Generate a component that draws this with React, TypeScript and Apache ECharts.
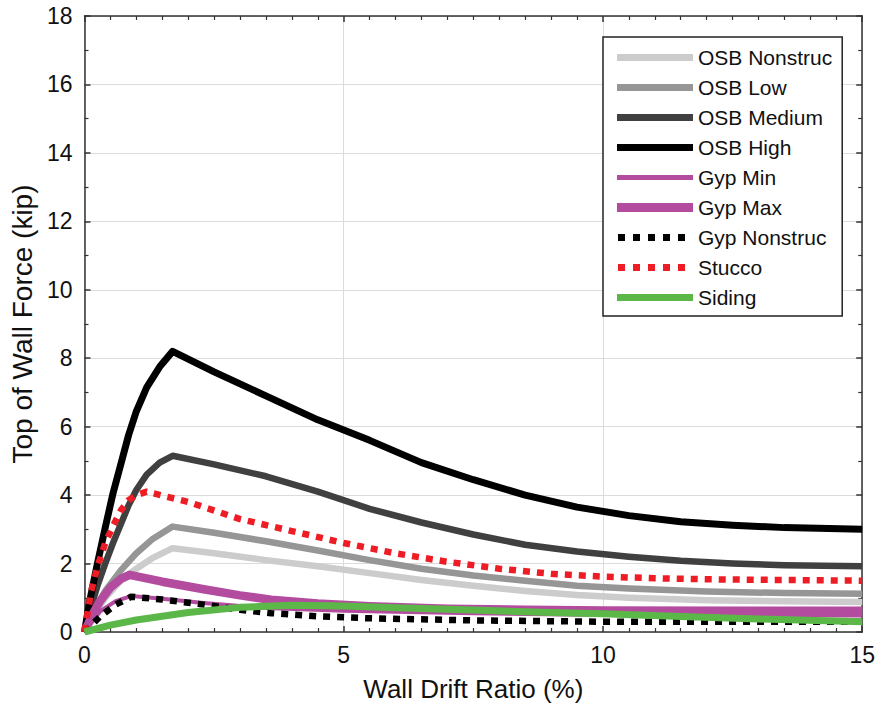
import React, { useEffect, useRef } from "react";
import * as echarts from "echarts";

const FONT = "'Liberation Sans', Arial, sans-serif";

const seriesNames = [
  "OSB Nonstruc",
  "OSB Low",
  "OSB Medium",
  "OSB High",
  "Gyp Min",
  "Gyp Max",
  "Gyp Nonstruc",
  "Stucco",
  "Siding",
];

const osbNonstrucX = [0, 0.1, 0.25, 0.4, 0.55, 0.7, 1.0, 1.3, 1.7, 2.5, 3.5, 4.5, 5.5, 6.5, 7.5, 8.5, 9.5, 10.5, 12, 13.5, 15];
const osbNonstrucY = [0, 0.3, 0.65, 1.0, 1.25, 1.5, 1.85, 2.15, 2.45, 2.3, 2.1, 1.92, 1.72, 1.52, 1.35, 1.2, 1.08, 1.0, 0.93, 0.9, 0.88];

const osbLowX = [0, 0.1, 0.25, 0.4, 0.55, 0.7, 1.0, 1.3, 1.7, 2.5, 3.5, 4.5, 5.5, 6.5, 7.5, 8.5, 9.5, 10.5, 12, 13.5, 15];
const osbLowY = [0, 0.35, 0.8, 1.2, 1.5, 1.8, 2.3, 2.7, 3.08, 2.9, 2.65, 2.38, 2.1, 1.85, 1.65, 1.5, 1.35, 1.27, 1.18, 1.14, 1.12];

const osbMediumX = [0, 0.1, 0.25, 0.4, 0.55, 0.7, 0.85, 1.0, 1.2, 1.45, 1.7, 2.5, 3.5, 4.5, 5.5, 6.5, 7.5, 8.5, 9.5, 10.5, 11.5, 12.5, 13.5, 15];
const osbMediumY = [0, 0.6, 1.35, 2.0, 2.6, 3.15, 3.7, 4.15, 4.6, 4.95, 5.15, 4.9, 4.55, 4.1, 3.6, 3.2, 2.85, 2.55, 2.35, 2.2, 2.08, 2.0, 1.95, 1.92];

const osbHighX = [0, 0.1, 0.25, 0.4, 0.55, 0.7, 0.85, 1.0, 1.2, 1.45, 1.7, 2.5, 3.5, 4.5, 5.5, 6.5, 7.5, 8.5, 9.5, 10.5, 11.5, 12.5, 13.5, 15];
const osbHighY = [0, 0.9, 2.0, 3.05, 4.05, 4.9, 5.75, 6.45, 7.15, 7.75, 8.2, 7.6, 6.9, 6.2, 5.6, 4.95, 4.45, 4.0, 3.65, 3.4, 3.22, 3.12, 3.05, 3.0];

const gypMinX = [0, 0.3, 0.6, 0.9, 1.5, 2.3, 3.5, 5, 7.5, 10, 15];
const gypMinY = [0, 0.6, 0.9, 1.05, 0.97, 0.85, 0.7, 0.62, 0.55, 0.5, 0.48];

const gypMaxX = [0, 0.15, 0.3, 0.5, 0.7, 0.87, 1.5, 2.3, 3, 3.6, 4.5, 5.5, 7, 8.5, 10, 12.5, 15];
const gypMaxY = [0, 0.5, 0.9, 1.3, 1.55, 1.67, 1.47, 1.25, 1.07, 0.94, 0.83, 0.75, 0.68, 0.65, 0.63, 0.62, 0.62];

const gypNonstrucX = [0, 0.3, 0.6, 0.9, 1.5, 2.3, 3, 3.6, 4.5, 5.5, 7.5, 10, 12.5, 15];
const gypNonstrucY = [0, 0.45, 0.8, 1.03, 0.95, 0.8, 0.65, 0.55, 0.46, 0.4, 0.34, 0.3, 0.3, 0.3];

const stuccoX = [0, 0.13, 0.25, 0.4, 0.55, 0.7, 0.85, 1.0, 1.2, 2, 3, 4, 5, 6, 7, 8, 9, 10, 11, 12, 13.5, 15];
const stuccoY = [0, 1.2, 1.9, 2.6, 3.1, 3.55, 3.85, 4.0, 4.1, 3.8, 3.3, 2.95, 2.6, 2.3, 2.05, 1.85, 1.7, 1.62, 1.57, 1.54, 1.52, 1.5];

const sidingX = [0, 0.5, 1, 2, 3, 4, 5, 6, 7.5, 9, 10, 11.5, 13, 15];
const sidingY = [0, 0.2, 0.35, 0.57, 0.72, 0.78, 0.76, 0.71, 0.64, 0.57, 0.53, 0.45, 0.38, 0.3];

const xTicks = [0, 5, 10, 15];
const yTicks = [0, 2, 4, 6, 8, 10, 12, 14, 16, 18];

const pair = (xs: number[], ys: number[]) => xs.map((x, i) => [x, ys[i]]);

const seriesData = [
  pair(osbNonstrucX, osbNonstrucY),
  pair(osbLowX, osbLowY),
  pair(osbMediumX, osbMediumY),
  pair(osbHighX, osbHighY),
  pair(gypMinX, gypMinY),
  pair(gypMaxX, gypMaxY),
  pair(gypNonstrucX, gypNonstrucY),
  pair(stuccoX, stuccoY),
  pair(sidingX, sidingY),
];

const styles: { color: string; width: number; legendW: number; dotted?: boolean }[] = [
  { color: "#cccccc", width: 6.5, legendW: 7 },
  { color: "#969696", width: 6.5, legendW: 7 },
  { color: "#404040", width: 6.5, legendW: 7 },
  { color: "#000000", width: 7, legendW: 7 },
  { color: "#b34b9e", width: 4, legendW: 5 },
  { color: "#b34b9e", width: 8.5, legendW: 9 },
  { color: "#000000", width: 6.5, legendW: 7, dotted: true },
  { color: "#ee1c25", width: 6.5, legendW: 7, dotted: true },
  { color: "#5bb848", width: 7, legendW: 7 },
];

const ICON_W = 76;
const ICON_H = 14;

function legendIcon(thick: number, dotted?: boolean): string {
  const top = (ICON_H - thick) / 2;
  const bot = top + thick;
  // invisible corner anchors to keep the 76x14 bounding box
  let d = `M0,0 L0,0 Z M${ICON_W},${ICON_H} L${ICON_W},${ICON_H} Z `;
  if (dotted) {
    for (let k = 0; k < 5; k++) {
      const x0 = 1 + k * 15;
      d += `M${x0},${top} L${x0 + 7},${top} L${x0 + 7},${bot} L${x0},${bot} Z `;
    }
  } else {
    d += `M0,${top} L${ICON_W},${top} L${ICON_W},${bot} L0,${bot} Z`;
  }
  return "path://" + d;
}

export default function App() {
  const ref = useRef<HTMLDivElement>(null);
  useEffect(() => {
    if (!ref.current) return;
    const chart = echarts.init(ref.current, null, { renderer: "svg" });
    const axisLine = { show: true, onZero: false, lineStyle: { color: "#333", width: 1.5 } };
    const tick = { show: true, inside: true, length: 6, lineStyle: { color: "#333", width: 1.5 } };
    const xMin = xTicks[0];
    const xMax = xTicks[xTicks.length - 1];
    const yMin = yTicks[0];
    const yMax = yTicks[yTicks.length - 1];
    chart.setOption({
      animation: false,
      backgroundColor: "#fff",
      grid: { left: 83, right: 12, top: 16, bottom: 75, containLabel: false },
      legend: {
        data: seriesNames.map((name, i) => ({
          name,
          icon: legendIcon(styles[i].legendW, styles[i].dotted),
          itemStyle: { color: styles[i].color, borderWidth: 0 },
        })),
        orient: "vertical",
        left: 603,
        top: 37,
        itemWidth: ICON_W,
        itemHeight: ICON_H,
        itemGap: 9,
        symbolKeepAspect: false,
        padding: [10, 10, 8, 14],
        borderColor: "#222",
        borderWidth: 1.5,
        backgroundColor: "#fff",
        textStyle: { fontSize: 21, fontFamily: FONT, color: "#111" },
      },
      xAxis: [
        {
          type: "value",
          min: xMin,
          max: xMax,
          interval: 5,
          position: "bottom",
          name: "Wall Drift Ratio (%)",
          nameLocation: "middle",
          nameGap: 44,
          nameTextStyle: { fontSize: 26, fontFamily: FONT, color: "#111" },
          axisLine,
          axisTick: tick,
          minorTick: { show: true, splitNumber: 10, length: 4, lineStyle: { color: "#333", width: 1.2 } },
          axisLabel: { fontSize: 23, fontFamily: FONT, color: "#111", margin: 11 },
          splitLine: { show: true, lineStyle: { color: "#dcdcdc", width: 1 } },
        },
        {
          type: "value",
          min: xMin,
          max: xMax,
          interval: 5,
          position: "top",
          axisLine,
          axisTick: tick,
          minorTick: { show: true, splitNumber: 10, length: 4, lineStyle: { color: "#333", width: 1.2 } },
          axisLabel: { show: false },
          splitLine: { show: false },
        },
      ],
      yAxis: [
        {
          type: "value",
          min: yMin,
          max: yMax,
          interval: 2,
          position: "left",
          name: "Top of Wall Force (kip)",
          nameLocation: "middle",
          nameGap: 45,
          nameTextStyle: { fontSize: 28, fontFamily: FONT, color: "#111" },
          axisLine,
          axisTick: tick,
          minorTick: { show: true, splitNumber: 2, length: 4, lineStyle: { color: "#333", width: 1.2 } },
          axisLabel: { fontSize: 23, fontFamily: FONT, color: "#111", margin: 12 },
          splitLine: { show: true, lineStyle: { color: "#dcdcdc", width: 1 } },
        },
        {
          type: "value",
          min: yMin,
          max: yMax,
          interval: 2,
          position: "right",
          axisLine,
          axisTick: tick,
          minorTick: { show: true, splitNumber: 2, length: 4, lineStyle: { color: "#333", width: 1.2 } },
          axisLabel: { show: false },
          splitLine: { show: false },
        },
      ],
      series: seriesNames.map((name, i) => ({
        name,
        type: "line",
        xAxisIndex: 0,
        yAxisIndex: 0,
        data: seriesData[i],
        showSymbol: false,
        symbol: "none",
        smooth: false,
        clip: true,
        color: styles[i].color,
        itemStyle: { color: styles[i].color },
        lineStyle: {
          color: styles[i].color,
          width: styles[i].width,
          type: styles[i].dotted ? [7, 7] : "solid",
          cap: "butt",
          join: "round",
        },
        z: 2 + i,
      })),
    });
    return () => chart.dispose();
  }, []);
  return <div ref={ref} style={{ width: 878, height: 707, position: "absolute", left: 0, top: 0 }} />;
}
